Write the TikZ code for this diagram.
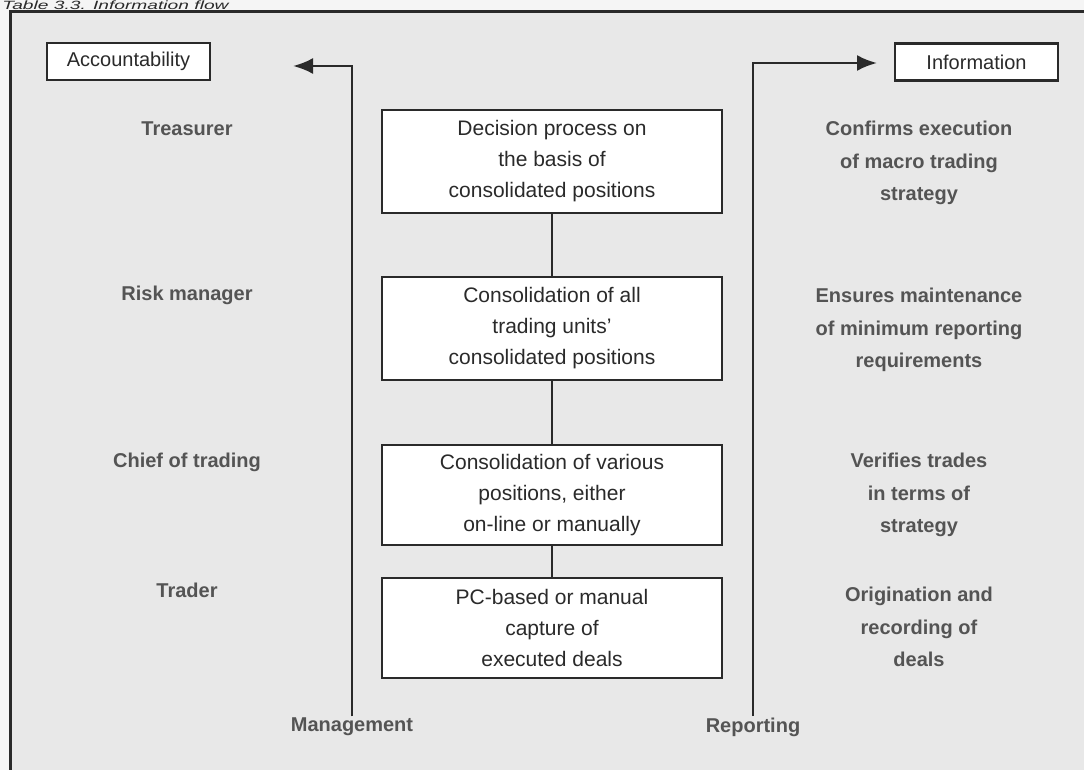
\documentclass[tikz,border=0pt]{standalone}
\usepackage{fontspec}
\setmainfont{Liberation Sans}
\usetikzlibrary{arrows.meta}
\definecolor{paper}{HTML}{E8E8E8}
\definecolor{ink}{HTML}{2A2A2A}
\definecolor{soft}{HTML}{545454}
\tikzset{
  px/.style={x=1pt,y=-1pt},
  stagebox/.style={draw=ink,line width=2.6pt,fill=white,minimum width=340pt,
    align=center,text=ink,font=\fontsize{21}{31}\selectfont},
  tagbox/.style={draw=ink,line width=2.8pt,fill=white,minimum width=163pt,
    minimum height=37pt,text=ink,font=\fontsize{20}{24}\selectfont},
  rolelabel/.style={text=soft,font=\bfseries\fontsize{20}{24}\selectfont},
  notelabel/.style={text=soft,align=center,font=\bfseries\fontsize{20}{32.5}\selectfont},
  flowlabel/.style={text=soft,font=\bfseries\fontsize{20}{24}\selectfont},
  link/.style={draw=ink,line width=2.4pt},
  flow/.style={draw=ink,line width=2.6pt,-{Latex[length=20pt,width=16pt]}},
}
\begin{document}
\begin{tikzpicture}[px]
  \useasboundingbox (0,0) rectangle (1084,770);
  % sheet and frame
  \fill[white!96!black] (0,0) rectangle (1084,770);
  \fill[paper] (10,12) rectangle (1084,770);
  \draw[ink,line width=3pt] (1084,12) -- (10,12) -- (10,770);
  \node[anchor=base west,inner sep=0pt,text=ink,xscale=1.6,
    font=\itshape\fontsize{12}{14}\selectfont]
    (title) at (2,9.5) {Table 3.3. Information flow};

  % header tags
  \node[tagbox] (acc) at (128.5,61.5) {Accountability};
  \node[tagbox] (info) at (976.5,62) {Information};

  % central chain
  \node[stagebox,minimum height=103pt] (s1) at (552,161.5)
    {Decision process on\\the basis of\\consolidated positions};
  \node[stagebox,minimum height=103pt] (s2) at (552,328.5)
    {Consolidation of all\\trading units'\\consolidated positions};
  \node[stagebox,minimum height=100pt] (s3) at (552,495)
    {Consolidation of various\\positions, either\\on-line or manually};
  \node[stagebox,minimum height=100pt] (s4) at (552,628)
    {PC-based or manual\\capture of\\executed deals};
  \draw[link] (s1) -- (s2);
  \draw[link] (s2) -- (s3);
  \draw[link] (s3) -- (s4);

  % roles
  \node[rolelabel] (r1) at (187,129) {Treasurer};
  \node[rolelabel] (r2) at (187,295) {Risk manager};
  \node[rolelabel] (r3) at (187,462) {Chief of trading};
  \node[rolelabel] (r4) at (187,590) {Trader};

  % duties
  \node[notelabel] (d1) at (919,163) {Confirms execution\\of macro trading\\strategy};
  \node[notelabel] (d2) at (919,330) {Ensures maintenance\\of minimum reporting\\requirements};
  \node[notelabel] (d3) at (919,495) {Verifies trades\\in terms of\\strategy};
  \node[notelabel] (d4) at (919,627) {Origination and\\recording of\\deals};

  % management and reporting lines
  \node[flowlabel] (mgmt) at (352,727) {Management};
  \node[flowlabel] (rep) at (753,727) {Reporting};
  \coordinate (ltip) at (293,66);
  \coordinate (rtip) at (877,63);
  \draw[flow] ([yshift=-2pt]mgmt.north) |- (ltip);
  \draw[flow] ([yshift=-2pt]rep.north) |- (rtip);
\end{tikzpicture}
\end{document}
